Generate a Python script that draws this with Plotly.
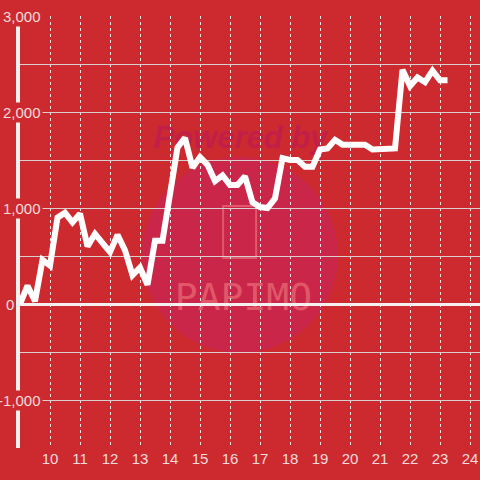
import plotly.graph_objects as go

# data: cumulative value every 15 minutes
times = ["9:00", "9:15", "9:30", "9:45", "10:00", "10:15", "10:30", "10:45",
         "11:00", "11:15", "11:30", "11:45", "12:00", "12:15", "12:30", "12:45",
         "13:00", "13:15", "13:30", "13:45", "14:00", "14:15", "14:30", "14:45",
         "15:00", "15:15", "15:30", "15:45", "16:00", "16:15", "16:30", "16:45",
         "17:00", "17:15", "17:30", "17:45", "18:00", "18:15", "18:30", "18:45",
         "19:00", "19:15", "19:30", "19:45", "20:00", "20:15", "20:30", "20:45",
         "21:00", "21:15", "21:30", "21:45", "22:00", "22:15", "22:30", "22:45",
         "23:00", "23:15"]
values = [0, 190, 30, 460, 400, 900, 950, 850,
          940, 600, 730, 640, 540, 720, 560, 300,
          380, 200, 660, 660, 1140, 1630, 1730, 1420,
          1530, 1450, 1280, 1340, 1240, 1240, 1330, 1060,
          1010, 1000, 1100, 1520, 1500, 1500, 1430, 1430,
          1610, 1620, 1710, 1660, 1660, 1660, 1660, 1610,
          1610, 1610, 1620, 2440, 2270, 2360, 2310, 2430,
          2330, 2330]
x_ticks = list(range(10, 25))
y_ticks = [3000, 2000, 1000, 0, -1000]
y_labels = ["3,000", "2,000", "1,000", "0", "-1,000"]

BG = "#cd2a2f"
hours = [int(t.split(":")[0]) + int(t.split(":")[1]) / 60 for t in times]

fig = go.Figure(go.Scatter(
    x=hours, y=values, mode="lines",
    line=dict(color="white", width=6),
    hoverinfo="skip"
))

# watermark
fig.add_shape(type="circle", x0=13.07, x1=19.6, y0=-510, y1=1530,
              fillcolor="#c9264a", line=dict(width=0), layer="below")
fig.add_shape(type="rect", x0=15.77, x1=16.87, y0=480, y1=1020,
              line=dict(color="rgba(235,110,120,0.7)", width=2), layer="below")
fig.add_shape(type="rect", x0=13.2, x1=19.5, y0=1600, y1=1930,
              line=dict(width=0), layer="below",
              label=dict(text="<b><i>Powered by</i></b>",
                         font=dict(size=31, color="#c21f48", family="Liberation Sans")))
fig.add_shape(type="rect", x0=14.0, x1=18.9, y0=-100, y1=300,
              line=dict(width=0), layer="below",
              label=dict(text="PAPIMO",
                         font=dict(size=38, color="rgba(235,110,120,0.7)",
                                   family="DejaVu Sans Mono")))

# y tick labels with a background patch over the axis line
for v, lab in zip(y_ticks, y_labels):
    fig.add_annotation(
        x=(43 - 20) / 460 if v != 0 else (16 - 20) / 460, y=v,
        xref="paper", yref="y",
        text=lab, showarrow=False, xanchor="right", yanchor="middle",
        font=dict(size=15, color="#f3dcdc", family="Liberation Sans"),
        bgcolor=BG if v != 0 else "rgba(0,0,0,0)", borderpad=1
    )

fig.update_layout(
    width=480, height=480,
    paper_bgcolor=BG, plot_bgcolor=BG,
    margin=dict(l=20, r=0, t=16, b=32),
    showlegend=False,
    xaxis=dict(
        range=[9, 9 + 460 / 30],
        tickvals=x_ticks,
        ticks="", automargin=False,
        showgrid=True, gridcolor="#f0e8e8", gridwidth=1, griddash="dot",
        zeroline=False, showline=False,
        tickfont=dict(size=15, color="#f3dcdc", family="Liberation Sans"),
        fixedrange=True
    ),
    yaxis=dict(
        range=[-1500, 3000], automargin=False,
        tickvals=[-1500, -1000, -500, 0, 500, 1000, 1500, 2000, 2500, 3000],
        showticklabels=False, ticks="",
        showgrid=True, gridcolor="#d8d0d0", gridwidth=1,
        zeroline=True, zerolinecolor="#f4f0f0", zerolinewidth=3,
        showline=True, linecolor="#f4f0f0", linewidth=4,
        fixedrange=True
    )
)

fig.write_html("out.html", config={"displayModeBar": False},
               post_script="document.body.style.margin='0';"
                           "document.body.style.background='#cd2a2f';")
